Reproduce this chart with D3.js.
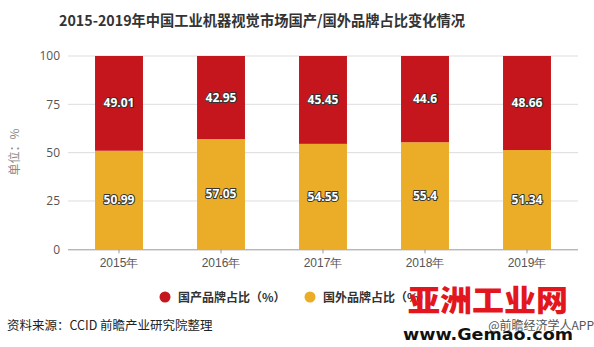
<!DOCTYPE html>
<html>
<head>
<meta charset="utf-8">
<script src="https://cdn.jsdelivr.net/npm/d3@7"></script>
<style>
  html, body { margin: 0; padding: 0; background: #fff; }
  svg { display: block; font-family: "Noto Sans CJK SC", "Noto Sans", sans-serif; }
</style>
</head>
<body>
<svg id="chart" width="594" height="347"></svg>
<script>
// Chart data
const years = ["2015年", "2016年", "2017年", "2018年", "2019年"];
const domestic = [49.01, 42.95, 45.45, 44.6, 48.66];   // 国产品牌占比
const foreign = [50.99, 57.05, 54.55, 55.4, 51.34];    // 国外品牌占比
const yTicks = [0, 25, 50, 75, 100];
const seriesNames = ["国产品牌占比（%）", "国外品牌占比（%）"];
const seriesColors = ["#C4161C", "#EBAC28"];

const svg = d3.select("#chart");
const margin = { left: 68, right: 16, top: 56, bottom: 98 };
const W = 594, H = 347;

const x = d3.scaleBand().domain(years).range([margin.left, W - margin.right]).paddingInner(0.53).paddingOuter(0.265);
const y = d3.scaleLinear().domain([0, 100]).range([H - margin.bottom + 0.3, margin.top]);

// Title
svg.append("text")
  .attr("x", 262).attr("y", 26)
  .attr("text-anchor", "middle")
  .attr("font-size", 14.5).attr("font-weight", "bold").attr("fill", "#333")
  .attr("textLength", 406).attr("lengthAdjust", "spacingAndGlyphs")
  .text("2015-2019年中国工业机器视觉市场国产/国外品牌占比变化情况");

// Grid lines
svg.append("g")
  .selectAll("line")
  .data(yTicks.filter(d => d > 0))
  .join("line")
  .attr("x1", margin.left).attr("x2", W - margin.right)
  .attr("y1", d => y(d)).attr("y2", d => y(d))
  .attr("stroke", "#ddd").attr("stroke-width", 1);

// Y axis labels
const yAxis = d3.axisLeft(y).tickValues(yTicks).tickSize(0).tickPadding(8);
svg.append("g")
  .attr("transform", `translate(${margin.left},0)`)
  .call(yAxis)
  .call(g => g.select(".domain").remove())
  .call(g => g.selectAll("text").attr("font-size", 12).attr("fill", "#555")
    .attr("font-family", "'Open Sans', 'Noto Sans', sans-serif"));

// Y axis title
svg.append("text")
  .attr("transform", "translate(19,152) rotate(-90)")
  .attr("text-anchor", "middle")
  .attr("font-size", 12).attr("fill", "#888")
  .text("单位：%");

// Stacked bars
const stackData = years.map((yr, i) => ({ year: yr, foreign: foreign[i], domestic: domestic[i] }));
const stack = d3.stack().keys(["foreign", "domestic"])(stackData);
const colorByKey = { foreign: seriesColors[1], domestic: seriesColors[0] };

const layers = svg.append("g").selectAll("g")
  .data(stack)
  .join("g")
  .attr("fill", d => colorByKey[d.key]);

layers.selectAll("rect")
  .data(d => d)
  .join("rect")
  .attr("x", d => x(d.data.year))
  .attr("width", x.bandwidth())
  .attr("y", d => y(d[1]))
  .attr("height", d => y(d[0]) - y(d[1]));

// Value labels
layers.selectAll("text")
  .data(d => d.map(v => ({ v, key: d.key })))
  .join("text")
  .attr("x", d => x(d.v.data.year) + x.bandwidth() / 2)
  .attr("y", d => y((d.v[0] + d.v[1]) / 2) + 4)
  .attr("text-anchor", "middle")
  .attr("font-size", 12).attr("font-weight", "bold")
  .attr("font-family", "'Open Sans', 'Noto Sans', sans-serif")
  .attr("fill", "#fff")
  .attr("stroke", "#333").attr("stroke-width", 2)
  .attr("paint-order", "stroke")
  .attr("stroke-linejoin", "round")
  .text(d => d.v.data[d.key]);

// X axis
const xAxis = d3.axisBottom(x).tickSize(4).tickPadding(5);
svg.append("g")
  .attr("transform", `translate(0,${y(0)})`)
  .call(xAxis)
  .call(g => g.select(".domain").attr("stroke", "#999").attr("d", `M${margin.left},0.5H${W - margin.right}`))
  .call(g => g.selectAll(".tick line").attr("stroke", "#999"))
  .call(g => g.selectAll("text").attr("font-size", 12).attr("fill", "#555"));

// Legend
const legendItems = [
  { name: seriesNames[0], color: seriesColors[0], cx: 165 },
  { name: seriesNames[1], color: seriesColors[1], cx: 310 }
];
const legend = svg.append("g").selectAll("g").data(legendItems).join("g");
legend.append("circle")
  .attr("cx", d => d.cx).attr("cy", 297).attr("r", 5.5)
  .attr("fill", d => d.color);
legend.append("text")
  .attr("x", d => d.cx + 13).attr("y", 301.5)
  .attr("font-size", 12).attr("fill", "#333").attr("font-weight", "bold")
  .text(d => d.name);

// Source note
svg.append("text")
  .attr("x", 7).attr("y", 330)
  .attr("font-size", 12.5).attr("fill", "#222")
  .text("资料来源：CCID 前瞻产业研究院整理");

// Publisher marks
svg.append("text")
  .attr("x", 594).attr("y", 330)
  .attr("text-anchor", "end")
  .attr("font-size", 12).attr("fill", "#555")
  .text("@前瞻经济学人APP");

svg.append("text")
  .attr("x", 488).attr("y", 311)
  .attr("text-anchor", "middle")
  .attr("font-size", 30).attr("font-weight", "900").attr("fill", "#E3161E")
  .attr("textLength", 160).attr("lengthAdjust", "spacingAndGlyphs")
  .text("亚洲工业网");

svg.append("text")
  .attr("x", 488).attr("y", 340)
  .attr("text-anchor", "middle")
  .attr("font-size", 15).attr("font-weight", "bold").attr("fill", "#111")
  .attr("font-family", "'DejaVu Sans', sans-serif")
  .attr("textLength", 170).attr("lengthAdjust", "spacingAndGlyphs")
  .text("www.Gemao.com");
</script>
</body>
</html>
